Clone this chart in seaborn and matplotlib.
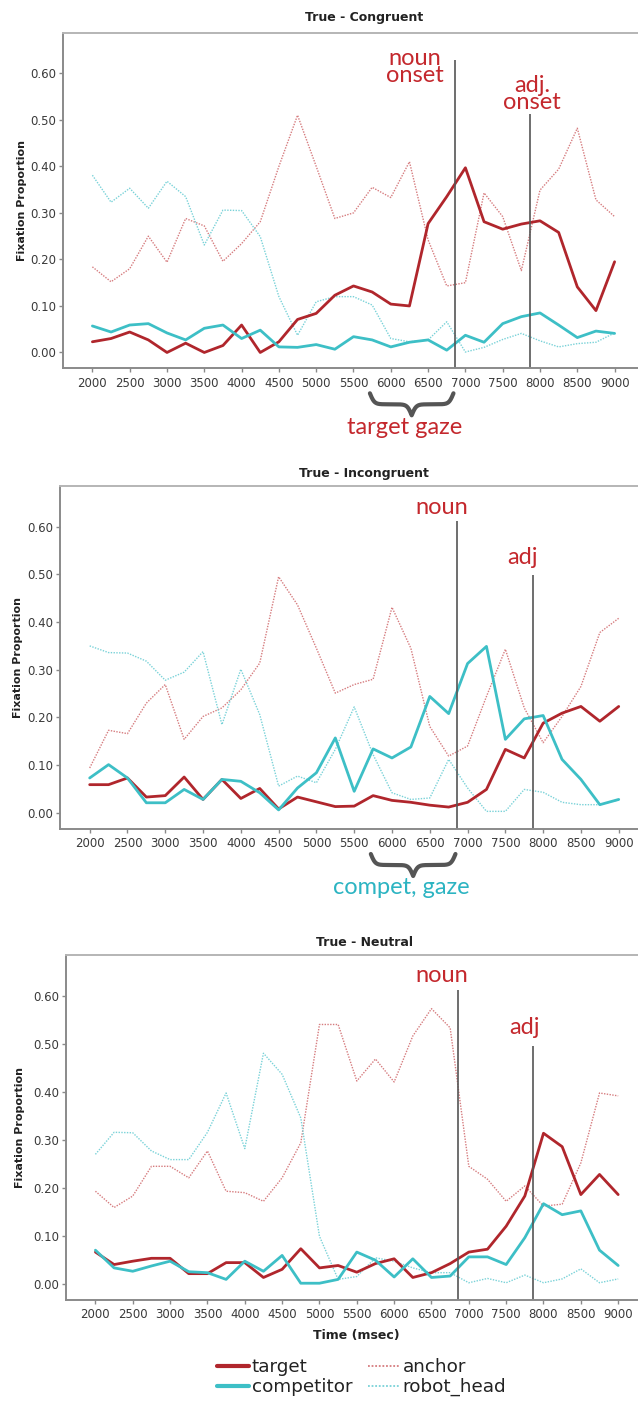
import numpy as np
import pandas as pd
import matplotlib.pyplot as plt
import seaborn as sns
from matplotlib.lines import Line2D

# ── DATA ────────────────────────────────────────────────────
TIME = [2000, 2250, 2500, 2750, 3000, 3250, 3500, 3750, 4000, 4250,
        4500, 4750, 5000, 5250, 5500, 5750, 6000, 6250, 6500, 6750,
        7000, 7250, 7500, 7750, 8000, 8250, 8500, 8750, 9000]
XTICKS = [2000, 2500, 3000, 3500, 4000, 4500, 5000, 5500,
          6000, 6500, 7000, 7500, 8000, 8500, 9000]
YTICKS = [0.0, 0.1, 0.2, 0.3, 0.4, 0.5, 0.6]
OBJECTS = ["anchor", "robot_head", "target", "competitor"]

# True - Congruent
CONG_TARGET = [0.023, 0.030, 0.044, 0.027, 0.000, 0.020, 0.000, 0.015, 0.059, 0.000,
               0.023, 0.071, 0.084, 0.123, 0.143, 0.130, 0.104, 0.100, 0.277, 0.335,
               0.397, 0.281, 0.265, 0.276, 0.283, 0.258, 0.141, 0.090, 0.195]
CONG_COMPET = [0.057, 0.044, 0.059, 0.062, 0.042, 0.027, 0.052, 0.059, 0.030, 0.048,
               0.012, 0.011, 0.017, 0.007, 0.034, 0.027, 0.012, 0.022, 0.027, 0.005,
               0.037, 0.022, 0.062, 0.077, 0.085, 0.059, 0.032, 0.046, 0.041]
CONG_ANCHOR = [0.184, 0.152, 0.180, 0.250, 0.194, 0.288, 0.272, 0.196, 0.234, 0.281,
               0.400, 0.510, 0.400, 0.288, 0.300, 0.355, 0.333, 0.410, 0.242, 0.143,
               0.150, 0.343, 0.292, 0.176, 0.349, 0.394, 0.482, 0.328, 0.292]
CONG_ROBOT = [0.381, 0.323, 0.353, 0.310, 0.368, 0.335, 0.231, 0.306, 0.305, 0.249,
              0.120, 0.037, 0.109, 0.120, 0.120, 0.102, 0.030, 0.023, 0.027, 0.066,
              0.001, 0.011, 0.028, 0.041, 0.025, 0.012, 0.019, 0.022, 0.042]

# True - Incongruent
INC_TARGET = [0.059, 0.059, 0.073, 0.033, 0.036, 0.075, 0.028, 0.070, 0.030, 0.051,
              0.008, 0.033, 0.023, 0.013, 0.014, 0.036, 0.026, 0.022, 0.016, 0.012,
              0.022, 0.049, 0.133, 0.115, 0.188, 0.209, 0.223, 0.192, 0.223]
INC_COMPET = [0.073, 0.101, 0.073, 0.021, 0.021, 0.049, 0.028, 0.070, 0.066, 0.042,
              0.006, 0.052, 0.084, 0.157, 0.045, 0.134, 0.115, 0.138, 0.244, 0.208,
              0.313, 0.349, 0.154, 0.197, 0.204, 0.112, 0.070, 0.017, 0.028]
INC_ANCHOR = [0.094, 0.173, 0.166, 0.230, 0.269, 0.154, 0.202, 0.220, 0.258, 0.314,
              0.495, 0.436, 0.345, 0.251, 0.269, 0.280, 0.431, 0.345, 0.181, 0.119,
              0.140, 0.244, 0.343, 0.220, 0.147, 0.202, 0.265, 0.378, 0.408]
INC_ROBOT = [0.350, 0.336, 0.335, 0.318, 0.278, 0.295, 0.338, 0.185, 0.301, 0.206,
             0.056, 0.077, 0.063, 0.133, 0.222, 0.122, 0.042, 0.028, 0.031, 0.112,
             0.052, 0.003, 0.003, 0.049, 0.043, 0.022, 0.017, 0.017, 0.027]

# True - Neutral
NEU_TARGET = [0.066, 0.040, 0.047, 0.053, 0.053, 0.021, 0.021, 0.044, 0.044, 0.013,
              0.030, 0.073, 0.033, 0.038, 0.024, 0.042, 0.052, 0.013, 0.023, 0.042,
              0.066, 0.072, 0.120, 0.183, 0.314, 0.286, 0.186, 0.228, 0.186]
NEU_COMPET = [0.070, 0.033, 0.026, 0.037, 0.047, 0.025, 0.023, 0.009, 0.047, 0.026,
              0.059, 0.001, 0.001, 0.009, 0.066, 0.049, 0.014, 0.052, 0.013, 0.016,
              0.056, 0.056, 0.040, 0.096, 0.167, 0.144, 0.152, 0.070, 0.038]
NEU_ANCHOR = [0.193, 0.159, 0.183, 0.245, 0.245, 0.221, 0.277, 0.193, 0.190, 0.172,
              0.221, 0.294, 0.541, 0.541, 0.423, 0.469, 0.421, 0.517, 0.574, 0.534,
              0.245, 0.218, 0.172, 0.204, 0.162, 0.166, 0.252, 0.398, 0.392]
NEU_ROBOT = [0.270, 0.316, 0.315, 0.277, 0.259, 0.259, 0.316, 0.398, 0.282, 0.481,
             0.437, 0.346, 0.099, 0.009, 0.015, 0.054, 0.047, 0.033, 0.023, 0.023,
             0.002, 0.011, 0.002, 0.018, 0.002, 0.010, 0.031, 0.002, 0.010]

NOUN_ONSET = 6860
ADJ_ONSET = 7860

# ── STYLE ───────────────────────────────────────────────────
sns.set_style("white")
plt.rcParams["font.family"] = ["DejaVu Sans"]

RED = "#b0262c"
CYAN = "#3dbfc6"
PALETTE = {"target": RED, "competitor": CYAN,
           "anchor": "#d67c7f", "robot_head": "#79d2d8"}
DASHES = {"target": "", "competitor": "", "anchor": (1, 1), "robot_head": (1, 1)}
SIZES = {"target": 2.0, "competitor": 2.0, "anchor": 1.0, "robot_head": 1.0}
NOTE_RED = "#c4282d"
NOTE_CYAN = "#2cb4c2"
SPINE = "#8a8a8a"
TXT = "#3a3a3a"

W, H = 638, 1403
fig = plt.figure(figsize=(W / 100, H / 100), dpi=100)
fig.patch.set_facecolor("white")

XLIM = (1610, 9390)
YLIM = (-0.034, 0.686)


def px_rect(left, top, width, bottom):
    return [left / W, 1 - bottom / H, width / W, (bottom - top) / H]


def draw_brace(ax, x0, x1, y_top, height, color):
    # curly brace under the axis, in figure pixels
    p0 = ax.transData.transform((x0, 0))[0] * W / fig.bbox.width
    p1 = ax.transData.transform((x1, 0))[0] * W / fig.bbox.width
    n = 201
    xs = np.linspace(p0, p1, n)
    xh = xs[: n // 2 + 1]
    beta = 0.45
    yh = (1 / (1 + np.exp(-beta * (xh - xh[0])))
          + 1 / (1 + np.exp(-beta * (xh - xh[-1])))) - 0.5
    ys = np.concatenate((yh, yh[-2::-1]))
    ys = y_top + ys * height
    fig.add_artist(Line2D(xs / W, 1 - ys / H, transform=fig.transFigure,
                          color=color, lw=3.0, solid_capstyle="round"))


PANELS = [
    dict(title="True - Congruent", title_y=17,
         rect=px_rect(63.3, 33.3, 580.4, 368.3),
         series={"target": CONG_TARGET, "competitor": CONG_COMPET,
                 "anchor": CONG_ANCHOR, "robot_head": CONG_ROBOT},
         noun_top=0.628, adj_top=0.512,
         noun_txt=("noun\nonset", 415, 67), adj_txt=("adj.\nonset", 532, 94),
         brace=(405, 428, "target gaze", NOTE_RED), ylab_x=22),
    dict(title="True - Incongruent", title_y=473,
         rect=px_rect(60.2, 485.7, 588.0, 829.0),
         series={"target": INC_TARGET, "competitor": INC_COMPET,
                 "anchor": INC_ANCHOR, "robot_head": INC_ROBOT},
         noun_top=0.612, adj_top=0.499,
         noun_txt=("noun", 442, 508), adj_txt=("adj", 523, 557),
         brace=(401, 888, "compet, gaze", NOTE_CYAN), ylab_x=18),
    dict(title="True - Neutral", title_y=942,
         rect=px_rect(66.3, 955.0, 581.0, 1300.0),
         series={"target": NEU_TARGET, "competitor": NEU_COMPET,
                 "anchor": NEU_ANCHOR, "robot_head": NEU_ROBOT},
         noun_top=0.614, adj_top=0.497,
         noun_txt=("noun", 442, 976), adj_txt=("adj", 524, 1028),
         brace=None, ylab_x=20),
]

for i, p in enumerate(PANELS):
    ax = fig.add_axes(p["rect"])
    rows = []
    for obj in OBJECTS:
        for t, v in zip(TIME, p["series"][obj]):
            rows.append({"time": t, "prop": v, "object": obj})
    df = pd.DataFrame(rows)

    sns.lineplot(data=df, x="time", y="prop", hue="object", style="object",
                 size="object", hue_order=OBJECTS, style_order=OBJECTS,
                 size_order=OBJECTS, palette=PALETTE, dashes=DASHES,
                 sizes=SIZES, legend=False, errorbar=None, ax=ax)

    ax.set_xlim(*XLIM)
    ax.set_ylim(*YLIM)
    ax.set_xticks(XTICKS)
    ax.set_yticks(YTICKS)
    ax.set_yticklabels([f"{v:.2f}" for v in YTICKS])
    ax.set_xlabel("")
    ax.set_ylabel("")
    ax.tick_params(axis="both", direction="out", length=3, width=1,
                   color=SPINE, labelsize=8.5, labelcolor=TXT,
                   bottom=True, left=True, pad=2)
    ax.tick_params(axis="x", pad=3)
    for side in ["left", "bottom", "top"]:
        ax.spines[side].set_color(SPINE)
        ax.spines[side].set_linewidth(1.4)
    ax.spines["top"].set_color("#b5b5b5")
    ax.spines["right"].set_visible(False)

    # onset markers
    ax.vlines(NOUN_ONSET, YLIM[0], p["noun_top"], color="#555555", lw=1.2)
    ax.vlines(ADJ_ONSET, YLIM[0], p["adj_top"], color="#555555", lw=1.2)

    txt, tx, ty = p["noun_txt"]
    fig.text(tx / W, 1 - ty / H, txt, ha="center", va="center",
             fontsize=17, color=NOTE_RED, family="Lato", linespacing=0.72)
    txt, tx, ty = p["adj_txt"]
    fig.text(tx / W, 1 - ty / H, txt, ha="center", va="center",
             fontsize=17, color=NOTE_RED, family="Lato", linespacing=0.72)

    fig.text(364 / W, 1 - p["title_y"] / H, p["title"], ha="center",
             va="center", fontsize=9, fontweight="bold", color="#222222")
    mid = (p["rect"][1] + p["rect"][3] / 2)
    fig.text(p["ylab_x"] / W, mid, "Fixation Proportion", rotation=90,
             ha="center", va="center", fontsize=8, fontweight="bold",
             color="#222222")

    if p["brace"] is not None:
        bx, by, btxt, bcol = p["brace"]
        y_axis_px = H * (1 - p["rect"][1])
        draw_brace(ax, 5720, 6840, y_axis_px + 25, 22, "#555555")
        fig.text(bx / W, 1 - by / H, btxt, ha="center", va="center",
                 fontsize=17, color=bcol, family="Lato")

fig.text(356 / W, 1 - 1336 / H, "Time (msec)", ha="center", va="center",
         fontsize=9, fontweight="bold", color="#222222")

# ── LEGEND ──────────────────────────────────────────────────
handles = [
    Line2D([], [], color=PALETTE["target"], lw=3),
    Line2D([], [], color=PALETTE["competitor"], lw=3),
    Line2D([], [], color=PALETTE["anchor"], lw=1.3, linestyle=(0, (1, 1))),
    Line2D([], [], color=PALETTE["robot_head"], lw=1.3, linestyle=(0, (1, 1))),
]
labels = ["target", "competitor", "anchor", "robot_head"]
fig.legend(handles, labels, ncol=2, loc="upper left",
           bbox_to_anchor=(217 / W, 1 - 1358 / H), frameon=False,
           fontsize=13.2, handlelength=1.75, handletextpad=0.15,
           columnspacing=0.85, labelspacing=0.12, borderpad=0,
           borderaxespad=0, labelcolor="#222222")

fig.savefig("out.png", dpi=100, facecolor="white")
